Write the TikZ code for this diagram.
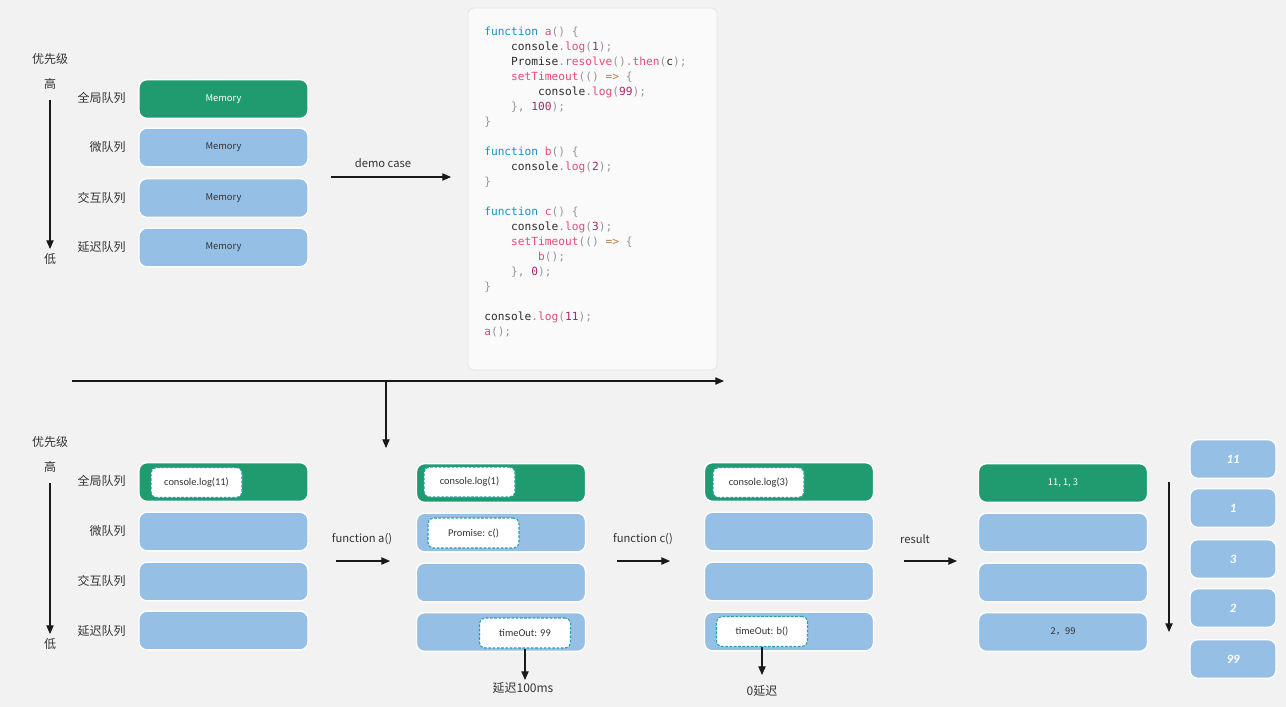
\documentclass[tikz,border=0pt]{standalone}
\usepackage{fontspec}
\setmainfont{Noto Sans CJK SC}
\newfontfamily\codefont{DejaVu Sans Mono}
\newfontfamily\carl{Carlito}
\usetikzlibrary{arrows.meta}
\definecolor{bg}{RGB}{242,242,242}
\definecolor{qgreen}{RGB}{32,155,112}
\definecolor{qblue}{RGB}{150,191,230}
\definecolor{dashc}{RGB}{38,158,168}
\definecolor{txt}{RGB}{51,51,51}
\definecolor{ckwc}{RGB}{18,150,196}
\definecolor{cfnc}{RGB}{232,74,120}
\definecolor{cnumc}{RGB}{172,36,112}
\definecolor{cpuc}{RGB}{150,150,150}
\definecolor{carc}{RGB}{190,128,78}
\definecolor{cdark}{RGB}{45,45,45}
\newcommand\ckw[1]{\textcolor{ckwc}{#1}}
\newcommand\cfn[1]{\textcolor{cfnc}{#1}}
\newcommand\cnum[1]{\textcolor{cnumc}{#1}}
\newcommand\cpu[1]{\textcolor{cpuc}{#1}}
\newcommand\car[1]{\textcolor{carc}{#1}}
\newcommand\iI{\phantom{0000}}
\newcommand\iII{\phantom{00000000}}
\begin{document}
\begin{tikzpicture}[x=0.75pt,y=-0.75pt,
  qbox/.style={rounded corners=6pt, draw=white, line width=1pt, minimum width=126.75pt, minimum height=29pt, inner sep=0pt, font=\fontsize{7}{8}\selectfont},
  gq/.style={qbox, fill=qgreen, text=white},
  bq/.style={qbox, fill=qblue, text=txt},
  rbox/.style={qbox, minimum width=64.5pt, fill=qblue, text=white, font=\carl\bfseries\itshape\fontsize{9.5}{11}\selectfont},
  dbox/.style={rounded corners=4pt, draw=dashc, dash pattern=on 2pt off 1.2pt, line width=0.8pt, fill=white, minimum width=68.25pt, minimum height=22.5pt, inner sep=0pt, font=\carl\fontsize{7.8}{9}\selectfont, text=txt},
  lab/.style={inner sep=0pt, font=\fontsize{9}{11}\selectfont, text=txt},
  elab/.style={inner sep=0pt, font=\fontsize{8.4}{10}\selectfont, text=txt},
  qlab/.style={lab, anchor=east},
  arr/.style={-{Triangle[length=6.5pt,width=5.5pt]}, line width=0.8pt, black!90},
  cl/.style={anchor=base west, inner sep=0pt, font=\codefont\fontsize{8.4}{10}\selectfont, text=cdark}
]
\fill[bg] (0,0) rectangle (1286,707);
\useasboundingbox (0,0) rectangle (1286,707);

% ---------- top legend ----------
\node[lab] (prio1) at (50,59) {优先级};
\node[lab] (hi1) at (50,84) {高};
\node[lab] (lo1) at (50,259) {低};
\coordinate (a1s) at (50,100);
\coordinate (a1e) at (50,249);
\draw[arr] (a1s) -- (a1e);

\node[qlab] (l1a) at (126,98) {全局队列};
\node[qlab] (l1b) at (126,147) {微队列};
\node[qlab] (l1c) at (126,198) {交互队列};
\node[qlab] (l1d) at (126,247) {延迟队列};

\node[gq] (m1) at (223.5,99) {Memory};
\node[bq] (m2) at (223.5,147.5) {Memory};
\node[bq] (m3) at (223.5,198) {Memory};
\node[bq] (m4) at (223.5,247.5) {Memory};

\node[elab] (demo) at (383,163) {demo case};
\coordinate (d1) at (331,177);
\coordinate (d2) at (451,177);
\draw[arr] (d1) -- (d2);

% ---------- code block ----------
\node[draw={rgb,255:red,228;green,228;blue,228}, fill={rgb,255:red,250;green,250;blue,250}, rounded corners=4pt, line width=0.6pt, minimum width=186.75pt, minimum height=271.5pt, inner sep=0pt] (code) at (592.5,189) {};
\node[cl] (c01) at (484,35) {\ckw{function} \cfn{a}\cpu{() \{}};
\node[cl] (c02) at (484,50) {\iI console\cpu{.}\cfn{log}\cpu{(}\cnum{1}\cpu{);}};
\node[cl] (c03) at (484,65) {\iI Promise\cpu{.}\cfn{resolve}\cpu{().}\cfn{then}\cpu{(}c\cpu{);}};
\node[cl] (c04) at (484,80) {\iI \cfn{setTimeout}\cpu{(() }\car{=>} \cpu{\{}};
\node[cl] (c05) at (484,95) {\iII console\cpu{.}\cfn{log}\cpu{(}\cnum{99}\cpu{);}};
\node[cl] (c06) at (484,110) {\iI \cpu{\}, }\cnum{100}\cpu{);}};
\node[cl] (c07) at (484,125) {\cpu{\}}};
\node[cl] (c09) at (484,155) {\ckw{function} \cfn{b}\cpu{() \{}};
\node[cl] (c10) at (484,170) {\iI console\cpu{.}\cfn{log}\cpu{(}\cnum{2}\cpu{);}};
\node[cl] (c11) at (484,185) {\cpu{\}}};
\node[cl] (c13) at (484,215) {\ckw{function} \cfn{c}\cpu{() \{}};
\node[cl] (c14) at (484,230) {\iI console\cpu{.}\cfn{log}\cpu{(}\cnum{3}\cpu{);}};
\node[cl] (c15) at (484,245) {\iI \cfn{setTimeout}\cpu{(() }\car{=>} \cpu{\{}};
\node[cl] (c16) at (484,260) {\iII \cfn{b}\cpu{();}};
\node[cl] (c17) at (484,275) {\iI \cpu{\}, }\cnum{0}\cpu{);}};
\node[cl] (c18) at (484,290) {\cpu{\}}};
\node[cl] (c20) at (484,320) {console\cpu{.}\cfn{log}\cpu{(}\cnum{11}\cpu{);}};
\node[cl] (c21) at (484,335) {\cfn{a}\cpu{();}};

% ---------- separator arrows ----------
\coordinate (h1) at (72,381);
\coordinate (h2) at (724,381);
\draw[arr] (h1) -- (h2);
\coordinate (v1) at (386,381);
\coordinate (v2) at (386,448);
\draw[arr] (v1) -- (v2);

% ---------- bottom legend ----------
\node[lab] (prio2) at (50,442) {优先级};
\node[lab] (hi2) at (50,467) {高};
\node[lab] (lo2) at (50,644) {低};
\coordinate (a2s) at (50,483);
\coordinate (a2e) at (50,634);
\draw[arr] (a2s) -- (a2e);

\node[qlab] (l2a) at (126,481) {全局队列};
\node[qlab] (l2b) at (126,531) {微队列};
\node[qlab] (l2c) at (126,581) {交互队列};
\node[qlab] (l2d) at (126,631) {延迟队列};

% set 1
\node[gq] (s1a) at (223.5,482) {};
\node[bq] (s1b) at (223.5,531.5) {};
\node[bq] (s1c) at (223.5,581.5) {};
\node[bq] (s1d) at (223.5,630.5) {};
\node[dbox] (log11) at (196.5,482.5) {console.log(11)};

\node[elab] (fa) at (362,539) {function a()};
\coordinate (fa1) at (336,561);
\coordinate (fa2) at (390,561);
\draw[arr] (fa1) -- (fa2);

% set 2
\node[gq] (s2a) at (501,483) {};
\node[bq] (s2b) at (501,532.5) {};
\node[bq] (s2c) at (501,582.5) {};
\node[bq] (s2d) at (501,632) {};
\node[dbox] (log1) at (469.5,482) {console.log(1)};
\node[dbox] (prom) at (473.5,533) {Promise: c()};
\node[dbox] (t99) at (525,633) {timeOut: 99};
\coordinate (t99e) at (525,680);
\draw[arr] (t99.south) -- (t99e);
\node[lab] (d100) at (523,688) {延迟100ms};

\node[elab] (fc) at (643,539) {function c()};
\coordinate (fc1) at (617,561);
\coordinate (fc2) at (670,561);
\draw[arr] (fc1) -- (fc2);

% set 3
\node[gq] (s3a) at (789,482) {};
\node[bq] (s3b) at (789,531.5) {};
\node[bq] (s3c) at (789,581.5) {};
\node[bq] (s3d) at (789,631.5) {};
\node[dbox] (log3) at (758.5,482.5) {console.log(3)};
\node[dbox] (tb) at (762,631.5) {timeOut: b()};
\coordinate (tbe) at (762,675);
\draw[arr] (tb.south) -- (tbe);
\node[lab] (d0) at (762,691) {0延迟};

\node[elab] (res) at (915,539) {result};
\coordinate (r1) at (904,561);
\coordinate (r2) at (957,561);
\draw[arr] (r1) -- (r2);

% set 4
\node[gq] (s4a) at (1063,483) {11, 1, 3};
\node[bq] (s4b) at (1063,532.5) {};
\node[bq] (s4c) at (1063,582.5) {};
\node[bq] (s4d) at (1063,632) {2，99};

\coordinate (ov1) at (1169,482);
\coordinate (ov2) at (1169,632);
\draw[arr] (ov1) -- (ov2);

% output boxes
\node[rbox] (o1) at (1233,459) {11};
\node[rbox] (o2) at (1233,508) {1};
\node[rbox] (o3) at (1233,559) {3};
\node[rbox] (o4) at (1233,608) {2};
\node[rbox] (o5) at (1233,659) {99};
\end{tikzpicture}
\end{document}
